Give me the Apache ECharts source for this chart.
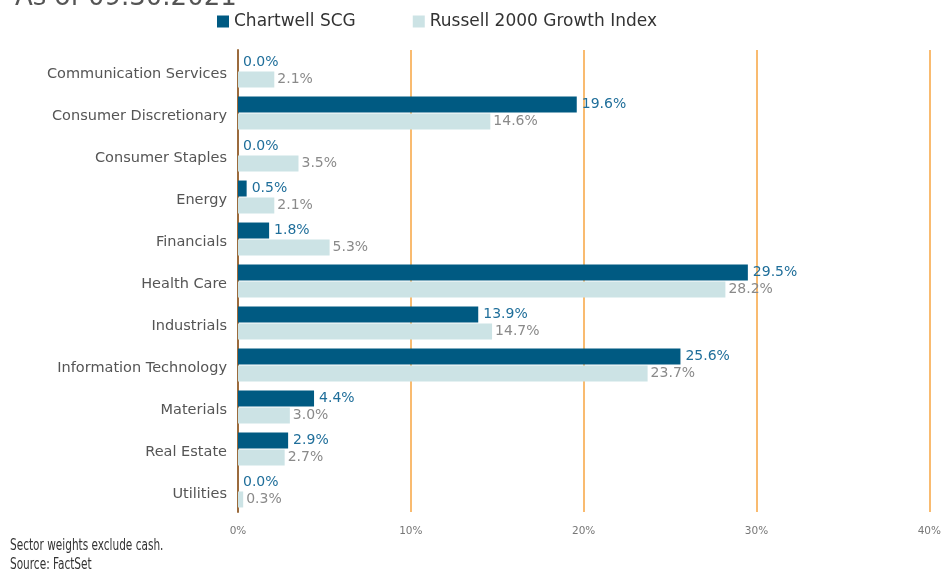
<!DOCTYPE html>
<html>
<head>
<meta charset="utf-8">
<script src="https://cdn.jsdelivr.net/npm/echarts@6/dist/echarts.min.js"></script>
<style>
  html, body { margin: 0; padding: 0; background: #fff; }
  #chart { width: 944px; height: 571px; }
</style>
</head>
<body>
<div id="chart"></div>
<script>
// sector names, top to bottom
const sectors = [
  'Communication Services', 'Consumer Discretionary', 'Consumer Staples', 'Energy',
  'Financials', 'Health Care', 'Industrials', 'Information Technology',
  'Materials', 'Real Estate', 'Utilities'
];
const chartwell = [0.0, 19.6, 0.0, 0.5, 1.8, 29.5, 13.9, 25.6, 4.4, 2.9, 0.0];
const russell = [2.1, 14.6, 3.5, 2.1, 5.3, 28.2, 14.7, 23.7, 3.0, 2.7, 0.3];
const seriesNames = ['Chartwell SCG', 'Russell 2000 Growth Index'];

const chart = echarts.init(document.getElementById('chart'));

const labelFont = 'DejaVu Sans';

const option = {
  animation: false,
  title: {
    text: 'As of 09.30.2021',
    left: 10,
    top: -20,
    textStyle: { fontFamily: labelFont, fontSize: 26, fontWeight: 'normal', color: '#555' }
  },
  legend: {
    data: seriesNames,
    left: 212,
    top: 8,
    itemWidth: 12,
    itemHeight: 12,
    itemGap: 57,
    icon: 'rect',
    textStyle: { fontFamily: labelFont, fontSize: 17, color: '#333' }
  },
  grid: {
    left: 238,
    right: 12,
    top: 50,
    bottom: 59
  },
  xAxis: {
    type: 'value',
    min: 0,
    max: 40,
    interval: 10,
    axisLine: { show: false },
    axisTick: { show: false },
    axisLabel: {
      formatter: '{value}%',
      fontFamily: labelFont,
      fontSize: 10.5,
      color: '#777',
      margin: 14
    },
    splitLine: {
      show: true,
      lineStyle: { color: '#f7a440', width: 1.5 }
    }
  },
  yAxis: {
    type: 'category',
    data: sectors,
    inverse: true,
    axisLine: { show: true, lineStyle: { color: '#9b6b3d', width: 2 } },
    axisTick: { show: false },
    axisLabel: {
      fontFamily: labelFont,
      fontSize: 14.5,
      color: '#555',
      margin: 11,
      verticalAlign: 'top',
      lineHeight: 6
    }
  },
  series: [
    {
      name: seriesNames[0],
      type: 'bar',
      data: chartwell,
      barWidth: 16,
      barGap: '6%',
      itemStyle: { color: '#005a82' },
      label: {
        show: true,
        position: 'right',
        distance: 5,
        formatter: p => p.value.toFixed(1) + '%',
        fontFamily: labelFont,
        fontSize: 14,
        color: '#1f6e9a'
      }
    },
    {
      name: seriesNames[1],
      type: 'bar',
      data: russell,
      barWidth: 16,
      itemStyle: { color: '#cce3e5' },
      label: {
        show: true,
        position: 'right',
        distance: 3,
        formatter: p => p.value.toFixed(1) + '%',
        fontFamily: labelFont,
        fontSize: 14,
        color: '#8a8a8a'
      }
    }
  ],
  graphic: [
    {
      type: 'text',
      left: 10,
      top: 537,
      scaleX: 0.78,
      originX: 0,
      style: {
        text: 'Sector weights exclude cash.\nSource: FactSet',
        font: '15px "DejaVu Sans Condensed", sans-serif',
        fill: '#333',
        lineHeight: 19
      }
    }
  ]
};

chart.setOption(option);

window.addEventListener('resize', () => chart.resize());
</script>
</body>
</html>
